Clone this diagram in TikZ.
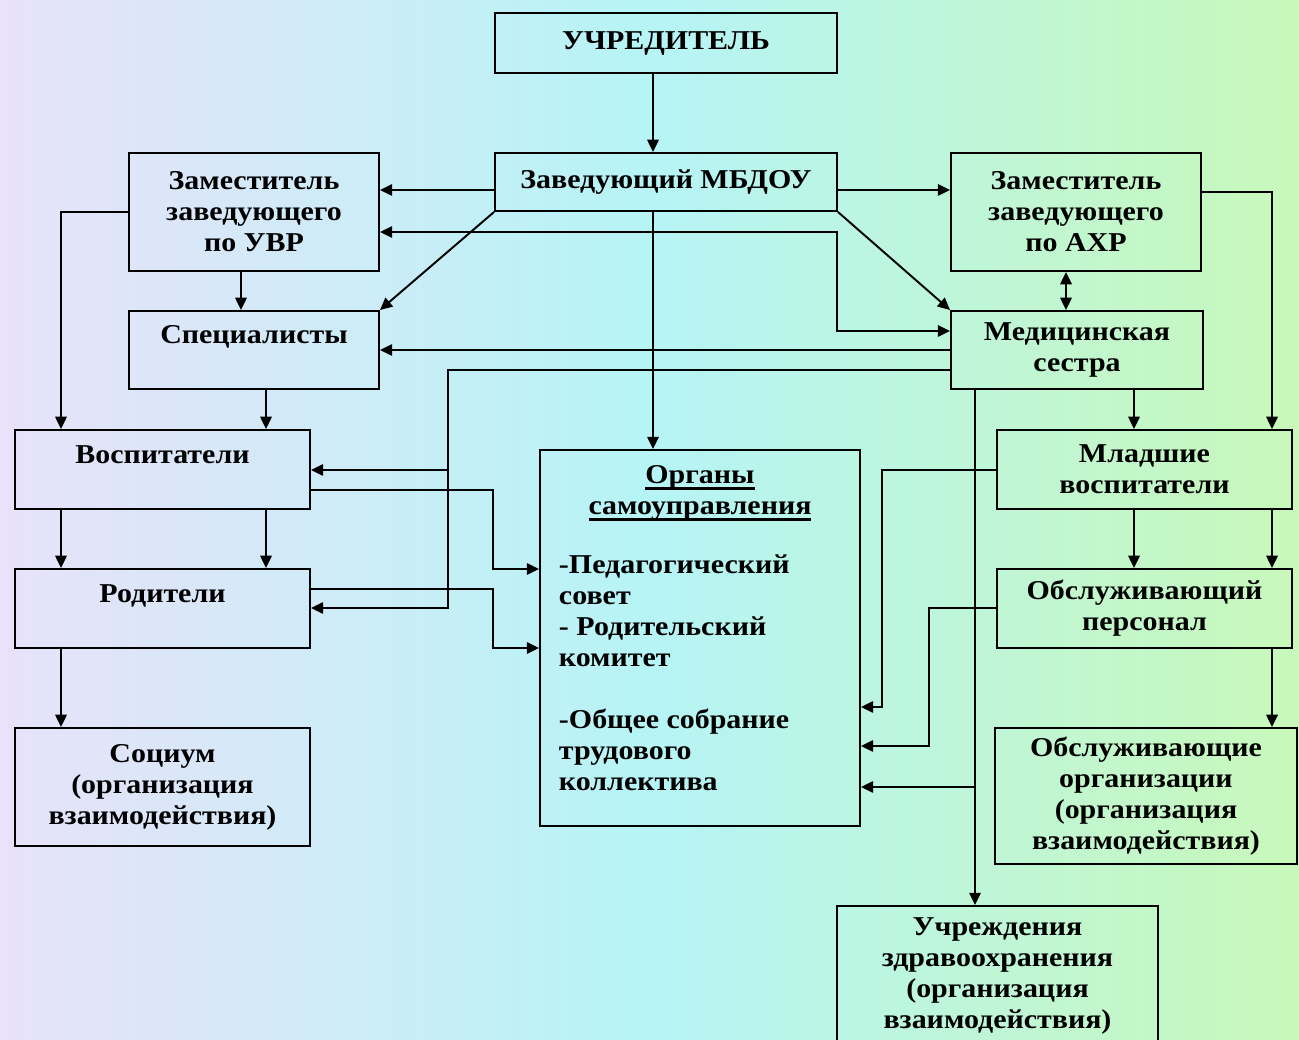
\documentclass[tikz,border=0pt]{standalone}
\usepackage{fontspec}
\setmainfont{Liberation Serif}[FakeStretch=1.1]
\usetikzlibrary{calc, arrows.meta}
\definecolor{bgleft}{RGB}{232,226,250}
\definecolor{bgmid}{RGB}{182,244,246}
\definecolor{bgright}{RGB}{200,248,186}
\newcommand{\thickul}[1]{\setbox0\hbox{#1}\rlap{\rule[-3.5pt]{\wd0}{1.3pt}}\box0}

\begin{document}
\begin{tikzpicture}[x=0.02cm, y=-0.02cm, line width=1.1pt,
	box/.style={draw, rectangle, inner sep=0pt, align=center, font=\bfseries\fontsize{15.5}{17.6}\selectfont},
	txt/.style={inner sep=0pt, font=\bfseries\fontsize{15.5}{17.6}\selectfont},
	arr/.style={-{Triangle[length=7pt,width=6.5pt]}},
	arrb/.style={{Triangle[length=7pt,width=6.5pt]}-{Triangle[length=7pt,width=6.5pt]}}]
			\useasboundingbox (0,0) rectangle (1299,1040);
			\shade[left color=bgleft, right color=bgright, middle color=bgmid] (0,0) rectangle (1299,1040);
			
			\node(uchr) [box, minimum width=6.84cm, minimum height=1.2cm] at (666,43) {УЧРЕДИТЕЛЬ};
			\node(zav) [box, minimum width=6.84cm, minimum height=1.16cm] at (666,182) {Заведующий МБДОУ};
			\node(zuvr) [box, minimum width=5cm, minimum height=2.36cm] at (254,212) {Заместитель\\заведующего\\по УВР};
			\node(zahr) [box, minimum width=5cm, minimum height=2.36cm] at (1076,212) {Заместитель\\заведующего\\по АХР};
			\node(spec) [box, minimum width=5cm, minimum height=1.56cm] at (254,350) {Специалисты\\[-5.6pt]\strut};
			\node(med) [box, minimum width=5.04cm, minimum height=1.56cm] at (1077,350) {Медицинская\\сестра};
			\node(vosp) [box, minimum width=5.9cm, minimum height=1.58cm] at (162.5,469.5) {Воспитатели\\[-5.6pt]\strut};
			\node(rod) [box, minimum width=5.9cm, minimum height=1.58cm] at (162.5,608.5) {Родители\\[-5.6pt]\strut};
			\node(soc) [box, minimum width=5.9cm, minimum height=2.36cm] at (162.5,787) {Социум\\(организация\\взаимодействия)};
			\node(org) [box, minimum width=6.4cm, minimum height=7.52cm] at (700,638) {};
			\node(orgh) [txt, align=center] at (700,493) {\thickul{Органы}\\\thickul{самоуправления}};
			\node(orgl) [txt, align=left, anchor=north west] at (558,554) {-Педагогический\\совет\\- Родительский\\комитет\\[17.6pt]-Общее собрание\\трудового\\коллектива};
			\node(mlad) [box, minimum width=5.9cm, minimum height=1.58cm] at (1144.5,469.5) {Младшие\\воспитатели};
			\node(obsp) [box, minimum width=5.9cm, minimum height=1.58cm] at (1144.5,608.5) {Обслуживающий\\персонал};
			\node(obor) [box, minimum width=6.04cm, minimum height=2.72cm] at (1146,796) {Обслуживающие\\организации\\(организация\\взаимодействия)};
			\node(uchz) [box, minimum width=6.42cm, minimum height=2.8cm] at (997.5,976) {Учреждения\\здравоохранения\\(организация\\взаимодействия)};
			
			\coordinate(jv) at (448,470);
			\coordinate(jz) at (975,787);
			
			\draw[arr] (653,0 |- uchr.south) -- (653,0 |- zav.north);
			\draw[arr] (zav.west |- 0,190) -- (zuvr.east |- 0,190);
			\draw[arr] (zav.east |- 0,190) -- (zahr.west |- 0,190);
			\draw[arr] (zav.south west) -- (spec.north east);
			\draw[arr] (zav.south east) -- (med.north west);
			\draw[arr] (653,0 |- zav.south) -- (653,0 |- org.north);
			\draw[arrb] (zuvr.east |- 0,232) -| (837,331) -- (med.west |- 0,331);
			\draw[arr] (med.west |- 0,350) -- (spec.east |- 0,350);
			\draw[arr] (med.west |- 0,370) -| (448,608) -- (rod.east |- 0,608);
			\draw[arr] (jv) -- (vosp.east |- jv);
			\draw[arr] (vosp.east |- 0,490) -| (493,569) -- (org.west |- 0,569);
			\draw[arr] (rod.east |- 0,589) -| (493,648) -- (org.west |- 0,648);
			\draw[arr] (zuvr.west |- 0,212) -| (61,0 |- vosp.north);
			\draw[arr] (241,0 |- zuvr.south) -- (241,0 |- spec.north);
			\draw[arr] (266,0 |- spec.south) -- (266,0 |- vosp.north);
			\draw[arr] (61,0 |- vosp.south) -- (61,0 |- rod.north);
			\draw[arr] (266,0 |- vosp.south) -- (266,0 |- rod.north);
			\draw[arr] (61,0 |- rod.south) -- (61,0 |- soc.north);
			
			\draw[arrb] (1066,0 |- zahr.south) -- (1066,0 |- med.north);
			\draw[arr] (zahr.east |- 0,192) -| (1272,0 |- mlad.north);
			\draw[arr] (1134,0 |- med.south) -- (1134,0 |- mlad.north);
			\draw[arr] (975,0 |- med.south) -- (975,0 |- uchz.north);
			\draw[arr] (jz) -- (org.east |- jz);
			\draw[arr] (mlad.west |- 0,470) -| (882,707) -- (org.east |- 0,707);
			\draw[arr] (obsp.west |- 0,608) -| (929,746) -- (org.east |- 0,746);
			\draw[arr] (1134,0 |- mlad.south) -- (1134,0 |- obsp.north);
			\draw[arr] (1272,0 |- mlad.south) -- (1272,0 |- obsp.north);
			\draw[arr] (1272,0 |- obsp.south) -- (1272,0 |- obor.north);
			
		\end{tikzpicture}
\end{document}
